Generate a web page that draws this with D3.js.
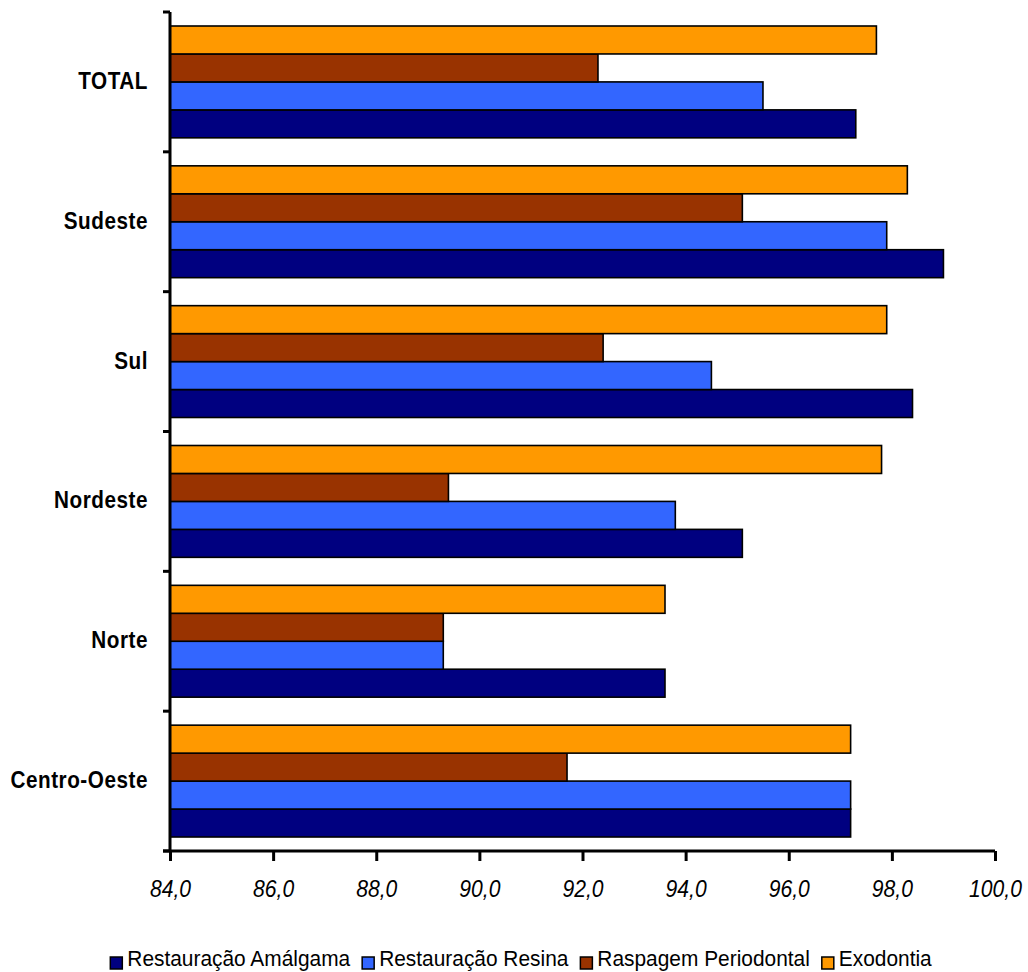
<!DOCTYPE html>
<html>
<head>
	<meta charset="utf-8">
	<title></title>
	<script src="https://d3js.org/d3.v7.min.js" charset="utf-8"></script>
	<style type="text/css">
		body {
			margin: 0;
			background-color: #FFFFFF;
		}
		svg text {
			font-family: 'Liberation Sans', Arial, sans-serif;
			fill: #000000;
		}
	</style>
</head>
<body>
	<div id="chart"></div>

	<script type="text/javascript">

		// dados (%)
		var categories = ['TOTAL', 'Sudeste', 'Sul', 'Nordeste', 'Norte', 'Centro-Oeste'];
		var amalgama  = [97.3, 99.0, 98.4, 95.1, 93.6, 97.2];
		var resina    = [95.5, 97.9, 94.5, 93.8, 89.3, 97.2];
		var raspagem  = [92.3, 95.1, 92.4, 89.4, 89.3, 91.7];
		var exodontia = [97.7, 98.3, 97.9, 97.8, 93.6, 97.2];

		var seriesNames = ['Restauração Amálgama', 'Restauração Resina', 'Raspagem Periodontal', 'Exodontia'];
		var seriesValues = [amalgama, resina, raspagem, exodontia];
		var colors = ['#000080', '#3366FF', '#993300', '#FF9900'];
		var xTicks = [84, 86, 88, 90, 92, 94, 96, 98, 100];

		var w = 1028;
		var h = 972;

		var svg = d3.select('#chart')
			.append('svg')
			.attr('width', w)
			.attr('height', h);

		var x = d3.scaleLinear()
			.domain([84, 100])
			.range([170, 995]);

		var y = d3.scaleBand()
			.domain(categories)
			.range([12, 851])
			.paddingInner(0)
			.paddingOuter(0);

		// order inside a group, from top: Exodontia, Raspagem, Resina, Amálgama
		var inner = d3.scaleBand()
			.domain([3, 2, 1, 0])
			.range([14, y.bandwidth() - 14]);

		var rows = [];
		categories.forEach(function(c, i) {
			seriesValues.forEach(function(s, j) {
				rows.push({cat: c, serie: j, value: s[i]});
			});
		});

		svg.append('g')
			.selectAll('rect')
			.data(rows)
			.enter()
			.append('rect')
			.attr('x', x(84))
			.attr('y', function(d) { return y(d.cat) + inner(d.serie); })
			.attr('width', function(d) { return x(d.value) - x(84); })
			.attr('height', inner.bandwidth())
			.attr('fill', function(d) { return colors[d.serie]; })
			.attr('stroke', '#000000')
			.attr('stroke-width', 1.6);

		// eixo y
		var yAxis = svg.append('g');
		yAxis.append('line')
			.attr('x1', 170).attr('x2', 170)
			.attr('y1', 12).attr('y2', 851)
			.attr('stroke', '#000').attr('stroke-width', 3);

		var bounds = categories.map(function(c) { return y(c); }).concat([851]);
		yAxis.selectAll('line.tick')
			.data(bounds)
			.enter()
			.append('line')
			.attr('class', 'tick')
			.attr('x1', 163).attr('x2', 170)
			.attr('y1', function(d) { return d; })
			.attr('y2', function(d) { return d; })
			.attr('stroke', '#000').attr('stroke-width', 3);

		yAxis.selectAll('text')
			.data(categories)
			.enter()
			.append('text')
			.attr('transform', function(d) {
				return 'translate(148,' + (y(d) + y.bandwidth() / 2 + 7) + ') scale(0.9,1)';
			})
			.attr('text-anchor', 'end')
			.attr('font-size', '23px')
			.attr('font-weight', 'bold')
			.attr('letter-spacing', '0.6px')
			.text(function(d) { return d; });

		// eixo x
		var xAxis = d3.axisBottom(x)
			.tickValues(xTicks)
			.tickSize(10)
			.tickFormat(function(d) { return d3.format('.1f')(d).replace('.', ','); });

		var gx = svg.append('g')
			.attr('transform', 'translate(0,851)')
			.call(xAxis);

		gx.select('.domain')
			.attr('d', 'M163,0H995')
			.attr('stroke', '#000')
			.attr('stroke-width', 3);
		gx.selectAll('.tick line')
			.attr('stroke', '#000')
			.attr('stroke-width', 3);
		gx.selectAll('.tick text')
			.attr('y', 0)
			.attr('dy', 0)
			.attr('transform', 'translate(0,46) scale(0.88,1)')
			.attr('font-family', "'Liberation Sans', Arial, sans-serif")
			.attr('font-size', '24px')
			.attr('font-style', 'italic')
			.attr('fill', '#000');

		// legenda
		var legend = svg.append('g');
		var lx = 0;
		seriesNames.forEach(function(name, i) {
			var g = legend.append('g');
			g.append('rect')
				.attr('x', lx)
				.attr('y', 957)
				.attr('width', 12)
				.attr('height', 12)
				.attr('fill', colors[i])
				.attr('stroke', '#000')
				.attr('stroke-width', 1.5);
			var t = g.append('text')
				.attr('transform', 'translate(' + (lx + 17) + ',966) scale(0.95,1)')
				.attr('font-size', '22px')
				.text(name);
			var tw = t.node().getComputedTextLength() * 0.95;
			lx = lx + 17 + tw + 12;
		});
		var totalW = lx - 12;
		legend.attr('transform', 'translate(' + (521 - totalW / 2) + ',0)');

	</script>
</body>
</html>
